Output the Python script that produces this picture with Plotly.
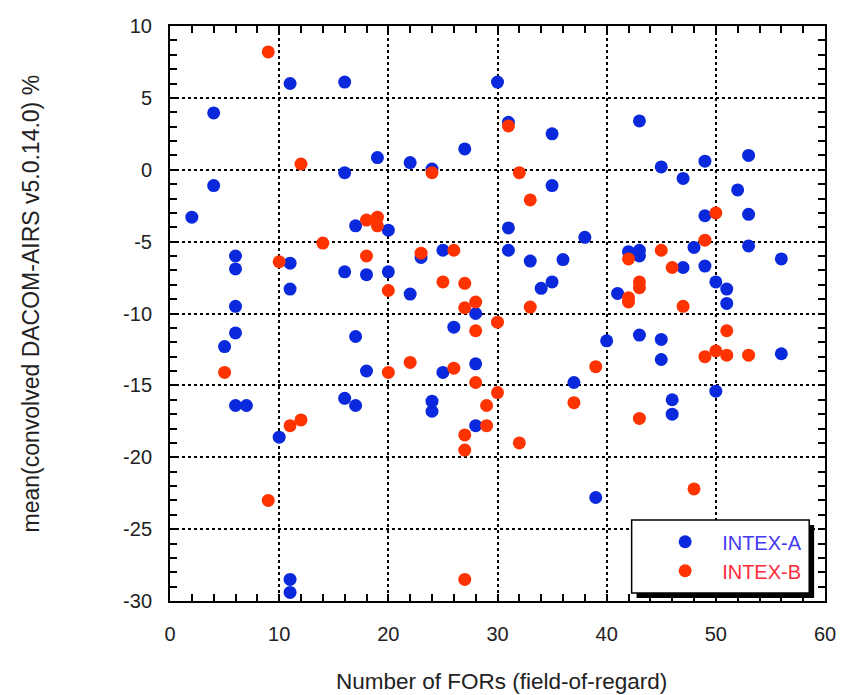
import plotly.graph_objects as go

# INTEX-A (blue)
a_x = [2, 4, 4, 5, 6, 6, 6, 6, 6, 7, 10, 11, 11, 11, 11, 11, 16, 16, 16, 16,
       17, 17, 17, 18, 18, 19, 20, 20, 22, 22, 23, 24, 24, 24, 25, 25, 26, 27,
       28, 28, 28, 30, 31, 31, 31, 33, 34, 35, 35, 35, 36, 37, 38, 39, 40, 41,
       42, 43, 43, 43, 43, 45, 45, 45, 46, 46, 47, 47, 48, 49, 49, 49, 50, 50,
       51, 51, 52, 53, 53, 53, 56, 56]
a_y = [-3.3, 3.95, -1.1, -12.3, -6.0, -6.9, -9.5, -11.35, -16.4, -16.4, -18.6,
       6.0, -6.5, -8.3, -28.5, -29.4, 6.1, -0.2, -7.1, -15.9,
       -3.9, -11.6, -16.4, -7.3, -14.0, 0.85, -4.2, -7.1, 0.5, -8.65, -6.1,
       0.05, -16.1, -16.8, -5.6, -14.1, -10.95, 1.45,
       -10.0, -13.5, -17.8, 6.1, 3.3, -4.05, -5.6, -6.35, -8.25, 2.5, -1.1, -7.8,
       -6.25, -14.8, -4.7, -22.8, -11.9, -8.6,
       -5.7, 3.4, -5.6, -6.0, -11.5, 0.2, -11.8, -13.2, -16.0, -17.0, -0.6, -6.8,
       -5.4, 0.6, -3.2, -6.7, -7.8, -15.4,
       -8.3, -9.3, -1.4, 1.0, -3.1, -5.3, -6.2, -12.8]

# INTEX-B (red)
b_x = [5, 9, 9, 10, 11, 12, 12, 14, 18, 18, 19, 19, 20, 20, 22, 23, 24, 25, 26,
       26, 27, 27, 27, 27, 27, 28, 28, 28, 29, 29, 30, 30, 31, 32, 32, 33, 33,
       37, 39, 42, 42, 42, 43, 43, 43, 45, 46, 47, 48, 49, 49, 50, 50, 51, 51, 53]
b_y = [-14.1, 8.2, -23.0, -6.4, -17.8, 0.4, -17.4, -5.1, -3.5, -6.0, -3.3, -3.9,
       -8.4, -14.1, -13.4, -5.8, -0.2, -7.8, -5.6,
       -13.8, -7.9, -9.6, -18.45, -19.5, -28.5, -9.2, -11.2, -14.8, -16.4, -17.8,
       -10.6, -15.5, 3.05, -0.2, -19.0, -2.1, -9.55,
       -16.2, -13.7, -6.2, -8.9, -9.2, -7.8, -8.2, -17.3, -5.6, -6.8, -9.5, -22.2,
       -4.9, -13.0, -3.0, -12.6, -11.2, -12.9, -12.9]

x_ticks = [0, 10, 20, 30, 40, 50, 60]
x_labels = ["0", "10", "20", "30", "40", "50", "60"]
y_ticks = [-30, -25, -20, -15, -10, -5, 0, 5, 10]
y_labels = ["-30", "-25", "-20", "-15", "-10", "-5", "0", "5", "10"]

FONT = "Liberation Sans, Arial, sans-serif"

fig = go.Figure()
fig.add_trace(go.Scatter(x=a_x, y=a_y, mode="markers",
                         name='<span style="color:#4438f0">INTEX-A</span>',
                         marker=dict(color="#0a28dc", size=13)))
fig.add_trace(go.Scatter(x=b_x, y=b_y, mode="markers",
                         name='<span style="color:#ff2a3a">INTEX-B</span>',
                         marker=dict(color="#ff3300", size=13)))

axis_common = dict(
    showline=True, linecolor="black", linewidth=2, mirror="allticks",
    ticks="inside", ticklen=7, tickwidth=1.5, tickcolor="black",
    showgrid=True, gridcolor="black", gridwidth=1.6, griddash="3px,3px",
    zeroline=False,
    tickfont=dict(family=FONT, size=20, color="#222"),
)

fig.update_xaxes(range=[0, 60], tickvals=x_ticks, ticktext=x_labels,
                 minor=dict(dtick=2, ticks="inside", ticklen=7, tickcolor="black",
                            tickwidth=1.5, showgrid=False),
                 ticklabelstandoff=14, **axis_common)
fig.update_yaxes(range=[-30, 10], tickvals=y_ticks, ticktext=y_labels,
                 minor=dict(dtick=1, ticks="inside", ticklen=7, tickcolor="black",
                            tickwidth=1.5, showgrid=False),
                 ticklabelstandoff=12, **axis_common)

# legend box with drop shadow
fig.add_shape(type="rect", xref="paper", yref="paper",
              x0=0.7123, x1=0.9834, y0=0.0052, y1=0.1322,
              fillcolor="black", line=dict(width=0), layer="above")
fig.add_shape(type="rect", xref="paper", yref="paper",
              x0=0.7048, x1=0.9759, y0=0.0139, y1=0.1409,
              fillcolor="white", line=dict(color="black", width=1.5), layer="above")

fig.add_annotation(text="Number of FORs (field-of-regard)", xref="paper", yref="paper",
                   x=0.5, xshift=4, y=0, yshift=-80, showarrow=False, yanchor="middle",
                   font=dict(family=FONT, size=22.5, color="#222"))
fig.add_annotation(text="mean(convolved DACOM-AIRS v5.0.14.0) %", xref="paper", yref="paper",
                   x=0, xshift=-140, y=0.5, yshift=10, showarrow=False, textangle=-90,
                   xanchor="center", yanchor="middle",
                   font=dict(family=FONT, size=23, color="#222"))

fig.update_layout(
    width=848, height=695,
    margin=dict(l=170, r=14, t=26, b=94),
    paper_bgcolor="white", plot_bgcolor="white",
    showlegend=True,
    legend=dict(x=0.730, y=0.137, xanchor="left", yanchor="top",
                bgcolor="rgba(0,0,0,0)", borderwidth=0,
                font=dict(family=FONT, size=20),
                itemwidth=64, tracegroupgap=0),
)

fig.write_html("out.html", config={"displayModeBar": False},
               post_script="document.body.style.margin='0';"
                           "document.body.style.overflow='hidden';")
